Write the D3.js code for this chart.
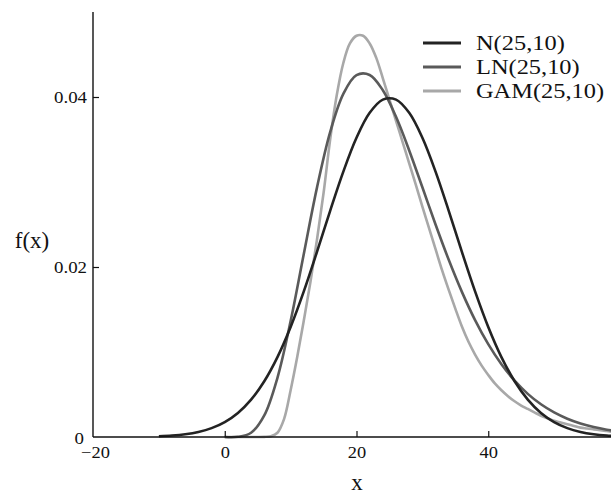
<!DOCTYPE html>
<html>
<head>
<meta charset="utf-8">
<script src="https://cdn.jsdelivr.net/npm/d3@7"></script>
<style>
  body { margin: 0; background: #fff; }
  text { font-family: "Liberation Serif", "Times New Roman", serif; fill: #111; }
</style>
</head>
<body>
<svg id="chart" width="611" height="497"></svg>
<script>
// series
var normX = [-10,-8,-6,-4,-2,0,2,4,6,8,10,12,14,16,18,20,22,24,26,28,30,32,34,36,38,40,42,44,46,48,50,52,54,56,58,60];
var normY = [0.000087,0.000172,0.000327,0.000595,0.001042,0.001753,0.002833,0.004398,0.006562,0.009405,
  0.012952,0.017137,0.021785,0.026609,0.031225,0.035207,0.038139,0.039695,0.039695,0.038139,
  0.035207,0.031225,0.026609,0.021785,0.017137,0.012952,0.009405,0.006562,0.004398,0.002833,
  0.001753,0.001042,0.000595,0.000327,0.000172,0.000087];

var lnX = [0,2,4,6,8,10,12,14,16,18,20,22,24,26,28,30,32,34,36,38,40,42,44,46,48,50,52,54,56,58,60];
var lnY = [0,0.000021,0.000497,0.002536,0.006966,0.013630,0.021535,0.029340,0.035867,0.040375,
  0.042578,0.042594,0.040794,0.037666,0.033711,0.029376,0.025001,0.020849,0.017074,0.013750,
  0.010918,0.008556,0.006625,0.005074,0.003847,0.002892,0.002155,0.001594,0.001170,0.000853,0.000618];

var gamX = [0,1,2,3,4,5,6,7,8,9,10,11,12,13,14,15,16,17,18,19,20,21,22,23,24,25,26,27,28,29,30,
  31,32,33,34,35,36,37,38,39,40,41,42,43,44,45,46,47,48,49,50,51,52,53,54,55,56,57,58,59,60];
var gamY = [0,0,0,0,0,0,0.00002,0.0001,0.0005,0.0021,0.0055,0.0094,0.0137,0.0182,0.0232,0.0287,
  0.0350,0.0402,0.0440,0.0463,0.0472,0.0472,0.0463,0.0446,0.0422,0.0397,0.0372,0.0347,0.0322,0.0297,
  0.0271,0.0246,0.0221,0.0196,0.0173,0.0151,0.0130,0.0112,0.0097,0.0084,0.0073,0.0063,0.0055,0.0048,
  0.0042,0.0037,0.0033,0.0029,0.0025,0.0022,0.0019,0.0017,0.0015,0.0013,0.0011,0.0010,0.0009,0.0008,
  0.0007,0.0006,0.0005];

var seriesNames = ["N(25,10)", "LN(25,10)", "GAM(25,10)"];
var seriesColors = ["#232323", "#5a5a5a", "#a8a8a8"];
var xTicks = [-20, 0, 20, 40];
var yTicks = [0, 0.02, 0.04];

(function () {
  var svg = d3.select("#chart");

  // the original lettering is a little wider than plain Times
  function widen(sel, k) {
    sel.each(function () {
      var w = this.getComputedTextLength();
      d3.select(this).attr("textLength", w * k).attr("lengthAdjust", "spacingAndGlyphs");
    });
  }

  var x = d3.scaleLinear().domain([-20, 60]).range([93, 620]);
  var y = d3.scaleLinear().domain([0, 0.05]).range([437, 12]);

  var series = [
    { name: seriesNames[0], color: seriesColors[0], pts: d3.zip(normX, normY) },
    { name: seriesNames[1], color: seriesColors[1], pts: d3.zip(lnX, lnY) },
    { name: seriesNames[2], color: seriesColors[2], pts: d3.zip(gamX, gamY) }
  ];

  var line = d3.line()
    .x(function (d) { return x(d[0]); })
    .y(function (d) { return y(d[1]); })
    .curve(d3.curveCatmullRom.alpha(0.5));

  // curves, light one underneath
  svg.append("g")
    .selectAll("path")
    .data(series.slice().reverse())
    .join("path")
    .attr("d", function (d) { return line(d.pts); })
    .attr("fill", "none")
    .attr("stroke", function (d) { return d.color; })
    .attr("stroke-width", 2.6)
    .attr("stroke-linejoin", "round");

  // x axis, ticks pointing up
  var xAxis = svg.append("g")
    .attr("transform", "translate(0,437)")
    .call(d3.axisBottom(x).tickValues(xTicks).tickSize(-6).tickPadding(10)
      .tickFormat(function (d) { return d < 0 ? "\u2212" + Math.abs(d) : d; }));
  xAxis.select(".domain").attr("d", "M93,0H611").attr("stroke", "#111").attr("stroke-width", 1.4);
  xAxis.selectAll(".tick line").attr("stroke", "#111").attr("stroke-width", 1.2);
  xAxis.selectAll(".tick").filter(function (d) { return d === -20; }).select("line").remove();
  xAxis.selectAll(".tick").filter(function (d) { return d === -20; }).select("text").attr("x", 2);
  xAxis.selectAll("text").attr("font-size", 16).attr("fill", "#111")
    .attr("font-family", "Liberation Serif");
  widen(xAxis.selectAll("text"), 1.15);

  // y axis, ticks pointing right
  var yAxis = svg.append("g")
    .attr("transform", "translate(93,0)")
    .call(d3.axisLeft(y).tickValues(yTicks).tickSize(-6).tickPadding(6)
      .tickFormat(function (d) { return d === 0 ? "0" : d3.format(".2f")(d); }));
  yAxis.select(".domain").attr("d", "M0,12V437").attr("stroke", "#111").attr("stroke-width", 1.4);
  yAxis.selectAll(".tick line").attr("stroke", "#111").attr("stroke-width", 1.2);
  yAxis.selectAll(".tick").filter(function (d) { return d === 0; }).select("line").remove();
  yAxis.selectAll(".tick").filter(function (d) { return d === 0; }).select("text")
    .attr("x", -9).attr("dy", "0.4em");
  yAxis.selectAll("text").attr("font-size", 16).attr("fill", "#111")
    .attr("font-family", "Liberation Serif");
  widen(yAxis.selectAll("text"), 1.18);

  // axis titles
  svg.append("text").attr("x", 357).attr("y", 490).attr("text-anchor", "middle")
    .attr("font-size", 23).text("x");
  svg.append("text").attr("x", 32).attr("y", 248).attr("text-anchor", "middle")
    .attr("font-size", 23).text("f(x)");

  // legend
  var legend = svg.append("g")
    .selectAll("g")
    .data(series)
    .join("g")
    .attr("transform", function (d, i) { return "translate(0," + [43, 67, 91][i] + ")"; });
  legend.append("line")
    .attr("x1", 423).attr("x2", 461)
    .attr("stroke", function (d) { return d.color; })
    .attr("stroke-width", 3.2);
  var legendText = legend.append("text")
    .attr("x", 476).attr("y", 7)
    .attr("font-size", 20)
    .text(function (d) { return d.name; });
  widen(legendText, 1.22);
})();
</script>
</body>
</html>
